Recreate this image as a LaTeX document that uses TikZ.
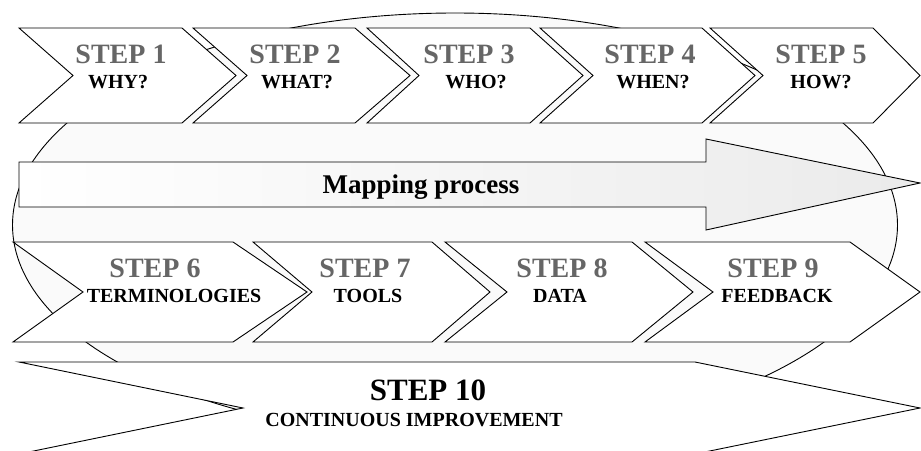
\documentclass[tikz,border=0pt]{standalone}
\usepackage{fontspec}
\setmainfont{Liberation Serif}
\definecolor{stepgray}{HTML}{666666}
\definecolor{ovalfill}{HTML}{FAFAFA}
% chevron: left x, notch depth, right x, tip depth, top y, middle y, bottom y
\newcommand{\chevronshape}[7]{%
  \path[chevbox] (#1,#5) -- (#3,#5) -- ({#3+#4},#6) -- (#3,#7)
    -- (#1,#7) -- ({#1+#2},#6) -- cycle;}
\begin{document}
\begin{tikzpicture}[x=1pt,y=-1pt,
  outline/.style={draw=black,line width=0.9pt,line join=miter},
  chevbox/.style={outline,fill=white},
  steptitle/.style={anchor=base,inner sep=0pt,text=stepgray,
    font=\bfseries\fontsize{28}{30}\selectfont},
  stepsub/.style={anchor=base,inner sep=0pt,
    font=\bfseries\fontsize{20}{22}\selectfont},
  bigtitle/.style={anchor=base,inner sep=0pt,
    font=\bfseries\fontsize{31}{33}\selectfont},
  maplabel/.style={anchor=base,inner sep=0pt,
    font=\bfseries\fontsize{27}{29}\selectfont}]
\useasboundingbox (0,0) rectangle (921,450);
\begin{scope}
\clip (0,0) rectangle (921,450);

% background oval
\path[outline,fill=ovalfill] (455,225) ellipse [x radius=442.5, y radius=212];

% mapping process arrow
\path[outline,left color=white,right color=gray!16]
  (19,162) -- (706,162) -- (706,139) -- (920,183) -- (706,230)
  -- (706,207) -- (19,207) -- cycle;
\node[maplabel] (map) at (421,193) {Mapping process};

% upper row of steps
\chevronshape{19}{54}{182}{54}{28}{75.5}{123}
\chevronshape{193}{54}{355}{55}{28}{75.5}{123}
\chevronshape{367}{52}{530}{53}{28}{75.5}{123}
\chevronshape{540}{53}{702}{53}{28}{75.5}{123}
\chevronshape{710}{53}{873}{47}{28}{75.5}{123}

\node[steptitle] (t1) at (121,63) {STEP 1};
\node[stepsub]   (s1) at (118,88) {WHY?};
\node[steptitle] (t2) at (295,63) {STEP 2};
\node[stepsub]   (s2) at (297,88) {WHAT?};
\node[steptitle] (t3) at (469,63) {STEP 3};
\node[stepsub]   (s3) at (476,88) {WHO?};
\node[steptitle] (t4) at (650,63) {STEP 4};
\node[stepsub]   (s4) at (653,88) {WHEN?};
\node[steptitle] (t5) at (821,63) {STEP 5};
\node[stepsub]   (s5) at (821,88) {HOW?};

% lower row of steps
\chevronshape{13}{70}{233}{74}{242}{292}{342}
\chevronshape{253}{59}{432}{58}{242}{292}{342}
\chevronshape{445}{62}{632}{61}{242}{292}{342}
\chevronshape{645}{68}{850}{70}{242}{292}{342}

\node[steptitle] (t6) at (155,277) {STEP 6};
\node[stepsub]   (s6) at (174,302) {TERMINOLOGIES};
\node[steptitle] (t7) at (365,277) {STEP 7};
\node[stepsub]   (s7) at (368,302) {TOOLS};
\node[steptitle] (t8) at (562,277) {STEP 8};
\node[stepsub]   (s8) at (560,302) {DATA};
\node[steptitle] (t9) at (773,277) {STEP 9};
\node[stepsub]   (s9) at (777,302) {FEEDBACK};

% final wide step
\chevronshape{19}{224}{695}{225}{362}{408}{454}
\node[bigtitle] (t10) at (428,400) {STEP 10};
\node[stepsub]  (s10) at (414,426) {CONTINUOUS IMPROVEMENT};
\end{scope}
\end{tikzpicture}
\end{document}
